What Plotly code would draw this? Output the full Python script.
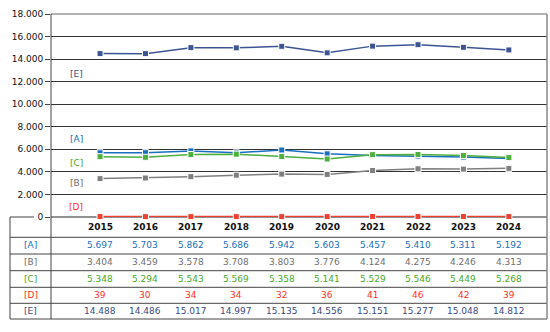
import plotly.graph_objects as go

years = ["2015", "2016", "2017", "2018", "2019", "2020", "2021", "2022", "2023", "2024"]
series_names = ["[A]", "[B]", "[C]", "[D]", "[E]"]
a_vals = [5697, 5703, 5862, 5686, 5942, 5603, 5457, 5410, 5311, 5192]
b_vals = [3404, 3459, 3578, 3708, 3803, 3776, 4124, 4275, 4246, 4313]
c_vals = [5348, 5294, 5543, 5569, 5358, 5141, 5529, 5546, 5449, 5268]
d_vals = [39, 30, 34, 34, 32, 36, 41, 46, 42, 39]
e_vals = [14488, 14486, 15017, 14997, 15135, 14556, 15151, 15277, 15048, 14812]
y_ticks = [0, 2000, 4000, 6000, 8000, 10000, 12000, 14000, 16000, 18000]
y_tick_labels = ["0", "2.000", "4.000", "6.000", "8.000", "10.000", "12.000", "14.000", "16.000", "18.000"]

line_colors = ["#1a6fc0", "#7f7f7f", "#4caf3e", "#ee4030", "#3c5494"]
text_colors = ["#1a6fc0", "#6f6f6f", "#4aa82a", "#ff3020", "#3a4a80"]
label_y = [6900, 3000, 4800, 900, 12700]

all_vals = [a_vals, b_vals, c_vals, d_vals, e_vals]

W, H = 550, 332
L, R, T, B = 51, 3, 14, 115
pw, ph = W - L - R, H - T - B


def px(x):
    return (x - L) / pw


def py(y):
    return (H - B - y) / ph


FONT = "DejaVu Sans, Verdana, sans-serif"

fig = go.Figure()
for name, vals, col in zip(series_names, all_vals, line_colors):
    fig.add_trace(go.Scatter(
        x=list(range(len(years))), y=vals, mode="lines+markers", name=name,
        line=dict(color=col, width=1.5),
        marker=dict(symbol="square", size=6, color=col, line=dict(color="white", width=1)),
        showlegend=False, hoverinfo="skip", cliponaxis=False))

annotations = []
shapes = []

# series labels on the plot
for name, ly, tc in zip(series_names, label_y, text_colors):
    annotations.append(dict(x=-0.52, y=ly, xref="x", yref="y", text=name, showarrow=False,
                            xanchor="center", yanchor="middle",
                            font=dict(family=FONT, size=9, color=tc)))

# table rows
row_centers = [245.5, 262.3, 279, 295.3, 311.3]
header_y = 227
for i, yr in enumerate(years):
    annotations.append(dict(x=i, y=py(header_y), xref="x", yref="paper", text="<b>%s</b>" % yr,
                            showarrow=False, xanchor="center", yanchor="middle",
                            font=dict(family=FONT, size=9, color="#111111")))


def fmt(v):
    return "{:,}".format(v).replace(",", ".")


for name, vals, tc, yc in zip(series_names, all_vals, text_colors, row_centers):
    annotations.append(dict(x=px(30.5), y=py(yc), xref="paper", yref="paper", text=name,
                            showarrow=False, xanchor="center", yanchor="middle",
                            font=dict(family=FONT, size=9, color=tc)))
    for i, v in enumerate(vals):
        annotations.append(dict(x=i, y=py(yc), xref="x", yref="paper", text=fmt(v),
                                showarrow=False, xanchor="center", yanchor="middle",
                                font=dict(family=FONT, size=9, color=tc)))

line_dark = dict(color="#444444", width=1)
# horizontal table lines
for yl in [237.3, 254, 270.7, 287.3, 303.3, 319]:
    shapes.append(dict(type="line", xref="paper", yref="paper", x0=px(10), x1=px(547),
                       y0=py(yl), y1=py(yl), line=line_dark, layer="above"))
# zero line left segment and plot zero line
shapes.append(dict(type="line", xref="paper", yref="paper", x0=px(10), x1=px(34),
                   y0=py(217), y1=py(217), line=line_dark))
shapes.append(dict(type="line", xref="paper", yref="paper", x0=0, x1=1,
                   y0=0, y1=0, line=dict(color="#222222", width=1), layer="below"))
# vertical lines
shapes.append(dict(type="line", xref="paper", yref="paper", x0=px(10), x1=px(10),
                   y0=0, y1=py(319), line=line_dark))
shapes.append(dict(type="line", xref="paper", yref="paper", x0=0, x1=0,
                   y0=1, y1=py(319), line=line_dark))
shapes.append(dict(type="line", xref="paper", yref="paper", x0=1, x1=1,
                   y0=1, y1=py(319), line=dict(color="#888888", width=1.5)))
# top border
shapes.append(dict(type="line", xref="paper", yref="paper", x0=0, x1=1,
                   y0=1, y1=1, line=dict(color="#999999", width=1.5), layer="below"))

fig.update_layout(
    width=W, height=H, margin=dict(l=L, r=R, t=T, b=B),
    paper_bgcolor="white", plot_bgcolor="white",
    xaxis=dict(range=[-1.08, 9.84], showticklabels=False, showgrid=False, zeroline=False,
               showline=False, ticks="", fixedrange=True),
    yaxis=dict(range=[0, 18000], tickvals=y_ticks, ticktext=y_tick_labels,
               showgrid=True, gridcolor="#333333", gridwidth=1, zeroline=False,
               showline=False, ticks="outside", ticklen=5, tickcolor="#444444",
               tickfont=dict(family=FONT, size=9, color="#111111"), fixedrange=True),
    annotations=annotations, shapes=shapes,
)

fig.write_html("out.html")
